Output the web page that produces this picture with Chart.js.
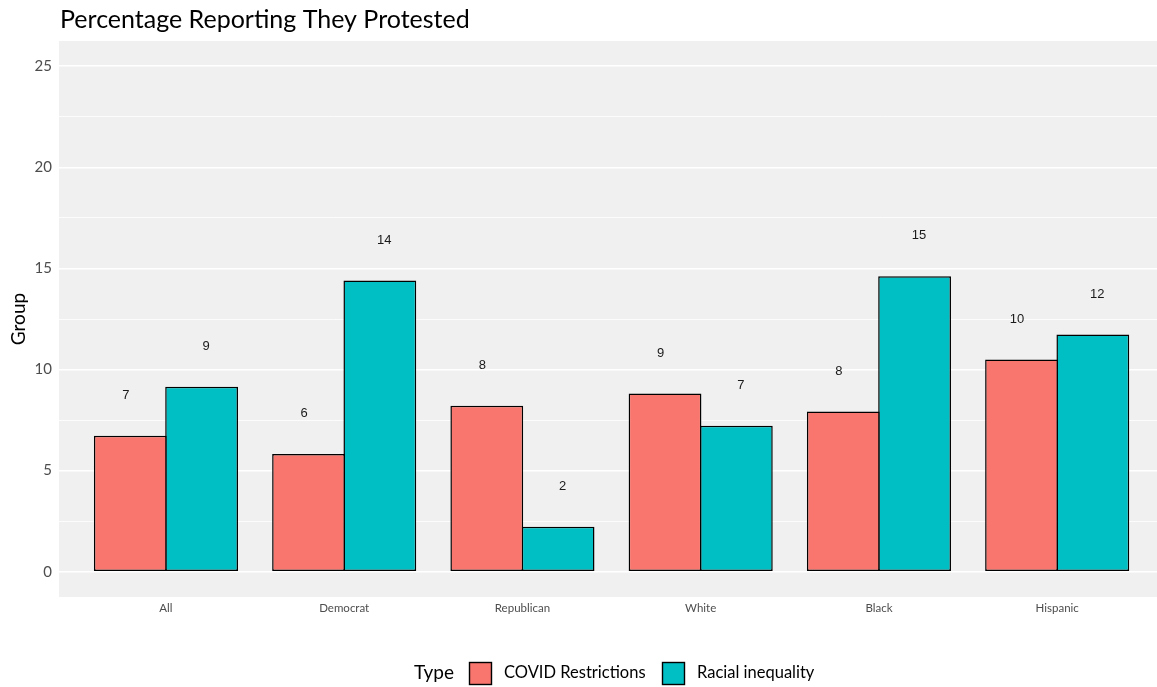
<!DOCTYPE html>
<html>
<head>
<meta charset="utf-8">
<script src="https://cdn.jsdelivr.net/npm/chart.js@4"></script>
<style>
  html, body { margin: 0; padding: 0; background: #ffffff; }
  #wrap { width: 1157px; height: 687px; position: relative; }
</style>
</head>
<body>
<div id="wrap"><canvas id="c" width="1157" height="687"></canvas></div>
<script>
// ---- data ----
const categories = ["All", "Democrat", "Republican", "White", "Black", "Hispanic"];
const seriesNames = ["COVID Restrictions", "Racial inequality"];
const covidValues = [6.73, 5.82, 8.21, 8.81, 7.92, 10.5];
const racialValues = [9.15, 14.41, 2.23, 7.22, 14.61, 11.73];
const covidLabels = ["7", "6", "8", "9", "8", "10"];
const racialLabels = ["9", "14", "2", "7", "15", "12"];
const yTickValues = [0, 2.5, 5, 7.5, 10, 12.5, 15, 17.5, 20, 22.5, 25];
const titleText = "Percentage Reporting They Protested";
const yAxisTitle = "Group";
const legendTitle = "Type";

// ---- styles ----
const COLORS = ["#F8766D", "#00BFC4"];
const FONT = "Lato, 'Open Sans', sans-serif";
const LABEL_DODGE = [-0.225, 0.225];

const panelPlugin = {
  id: 'panel',
  beforeDraw(chart) {
    const {ctx, chartArea: a} = chart;
    ctx.save();
    ctx.fillStyle = '#f0f0f0';
    ctx.fillRect(a.left, a.top, a.right - a.left, a.bottom - a.top);
    ctx.restore();
  },
  afterDatasetsDraw(chart) {
    const {ctx} = chart;
    const x = chart.scales.x;
    const y = chart.scales.y;
    const labelSets = [covidLabels, racialLabels];
    const valueSets = [covidValues, racialValues];
    ctx.save();
    ctx.font = "13px 'Liberation Sans', Arial, sans-serif";
    ctx.fillStyle = '#1a1a1a';
    ctx.textAlign = 'center';
    ctx.textBaseline = 'middle';
    for (let d = 0; d < 2; d++) {
      valueSets[d].forEach((v, i) => {
        ctx.fillText(labelSets[d][i], x.getPixelForValue(i + LABEL_DODGE[d]), y.getPixelForValue(v + 2));
      });
    }
    ctx.restore();
  },
  afterDraw(chart) {
    const {ctx} = chart;
    ctx.save();
    // title
    ctx.fillStyle = '#000000';
    ctx.font = "25px " + FONT;
    ctx.textAlign = 'left';
    ctx.textBaseline = 'middle';
    ctx.fillText(titleText, 60, 20);
    // legend
    const cy = 673;
    ctx.font = "19px " + FONT;
    ctx.fillText(legendTitle, 414, cy);
    const boxes = [469, 662];
    const texts = [504, 697];
    ctx.font = "16.5px " + FONT;
    for (let i = 0; i < 2; i++) {
      ctx.fillStyle = COLORS[i];
      ctx.fillRect(boxes[i] + 0.5, cy - 11 + 0.5, 22, 22);
      ctx.strokeStyle = '#000000';
      ctx.lineWidth = 1.4;
      ctx.strokeRect(boxes[i] + 0.5, cy - 11 + 0.5, 22, 22);
      ctx.fillStyle = '#000000';
      ctx.fillText(seriesNames[i], texts[i], cy);
    }
    ctx.restore();
  }
};

const barStyle = {
  borderColor: '#000000',
  borderWidth: 1.5,
  borderSkipped: false,
  inflateAmount: 0,
  categoryPercentage: 0.8,
  barPercentage: 1.021
};

new Chart(document.getElementById('c'), {
  type: 'bar',
  data: {
    datasets: [
      Object.assign({
        label: seriesNames[0],
        data: covidValues.map((v, i) => ({x: i, y: v})),
        backgroundColor: COLORS[0]
      }, barStyle),
      Object.assign({
        label: seriesNames[1],
        data: racialValues.map((v, i) => ({x: i, y: v})),
        backgroundColor: COLORS[1]
      }, barStyle)
    ]
  },
  options: {
    responsive: false,
    animation: false,
    devicePixelRatio: 1,
    layout: { padding: { top: 41, left: 0, right: 0, bottom: 0 } },
    plugins: {
      legend: { display: false },
      title: { display: false },
      tooltip: { enabled: false }
    },
    scales: {
      x: {
        type: 'linear',
        min: -0.6,
        max: 5.56,
        offset: false,
        grid: { display: false, drawTicks: false },
        border: { display: false },
        afterBuildTicks(scale) {
          scale.ticks = categories.map((c, i) => ({value: i}));
        },
        afterFit(scale) { scale.height = 90; },
        ticks: {
          autoSkip: false,
          maxRotation: 0,
          padding: 4,
          color: '#4d4d4d',
          font: { family: FONT, size: 11.5 },
          callback: (v) => categories[v]
        }
      },
      y: {
        min: -1.25,
        max: 26.25,
        afterBuildTicks(scale) {
          scale.ticks = yTickValues.map(v => ({value: v}));
        },
        afterFit(scale) { scale.width = 59; },
        grid: {
          color: '#ffffff',
          drawTicks: false,
          lineWidth: (ctx) => (ctx.tick && ctx.tick.value % 5 === 0) ? 1.6 : 0.8
        },
        border: { display: false },
        ticks: {
          padding: 7,
          color: '#4d4d4d',
          font: { family: FONT, size: 15 },
          callback: (v) => (v % 5 === 0 ? String(v) : '')
        },
        title: {
          display: true,
          text: yAxisTitle,
          color: '#000000',
          font: { family: FONT, size: 19 },
          padding: { top: 7, bottom: 0 }
        }
      }
    }
  },
  plugins: [panelPlugin]
});
</script>
</body>
</html>
